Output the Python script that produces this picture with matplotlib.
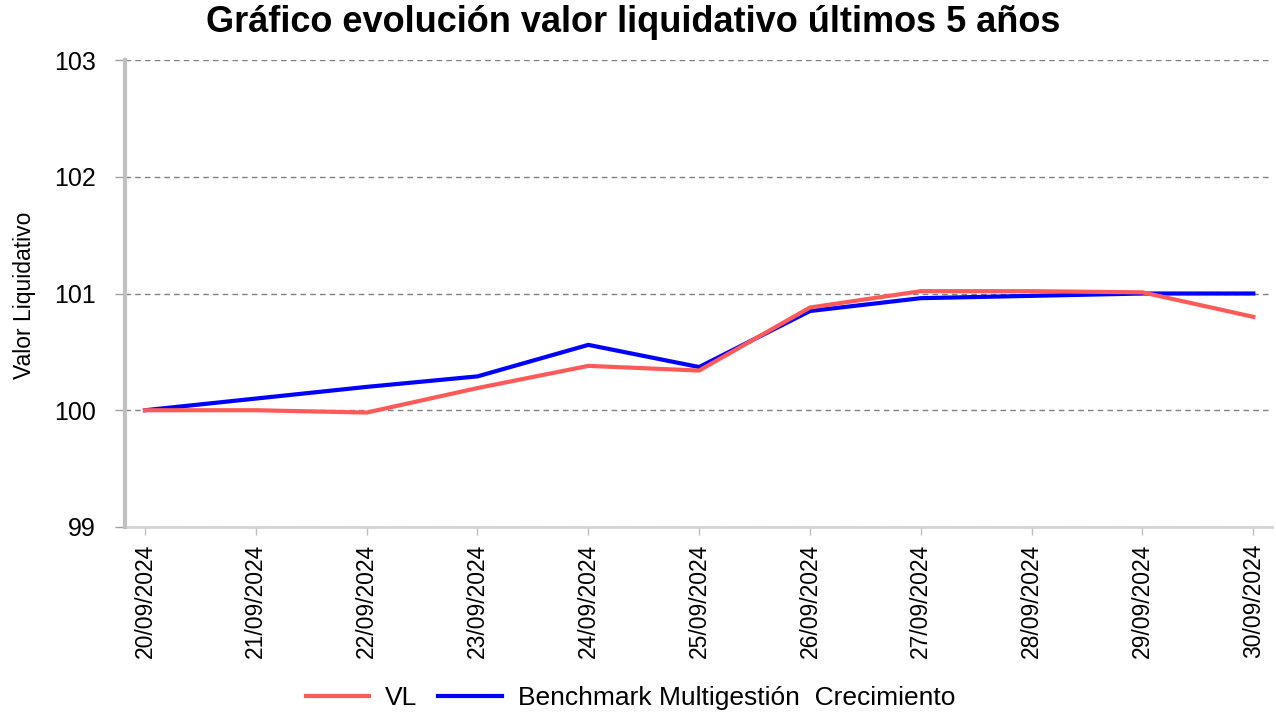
import matplotlib
matplotlib.use("Agg")
import matplotlib.pyplot as plt

plt.rcParams["font.family"] = ["Liberation Sans", "DejaVu Sans"]

# ---- data ----
dates = ["20/09/2024", "21/09/2024", "22/09/2024", "23/09/2024", "24/09/2024",
         "25/09/2024", "26/09/2024", "27/09/2024", "28/09/2024", "29/09/2024",
         "30/09/2024"]
vl = [100.0, 100.0, 99.98, 100.19, 100.38, 100.34, 100.88, 101.02, 101.02, 101.01, 100.80]
bench = [100.0, 100.10, 100.20, 100.29, 100.56, 100.37, 100.85, 100.96, 100.98, 101.0, 101.0]
yticks = [99, 100, 101, 102, 103]

# ---- plot ----
fig = plt.figure(figsize=(12.76, 7.15), dpi=100)
ax = fig.add_axes([0.098, 0.263, 0.899, 0.653])

x = list(range(len(dates)))
ax.plot(x, bench, color="#0000ff", linewidth=3, label="Benchmark Multigestión  Crecimiento", zorder=3)
ax.plot(x, vl, color="#ff5a5a", linewidth=3, label="VL", zorder=4)

ax.set_xlim(-0.18, len(dates) - 1 + 0.17)
ax.set_ylim(99, 103)
ax.set_yticks(yticks)
ax.set_yticklabels([str(v) for v in yticks])
ax.set_xticks(x)
ax.set_xticklabels(dates, rotation=90)

ax.grid(True, axis="y", color="#808080", linestyle=(0, (4, 3)), linewidth=1, zorder=2.5)
for side in ["top", "right"]:
    ax.spines[side].set_visible(False)
ax.spines["left"].set_color("#c0c0c0")
ax.spines["left"].set_linewidth(3)
ax.spines["bottom"].set_color("#d4d4d4")
ax.spines["bottom"].set_linewidth(2)
ax.spines["bottom"].set_zorder(2)
ax.tick_params(axis="y", length=7, width=1, color="#a0a0a0", labelsize=18, pad=14)
ax.tick_params(axis="x", length=6, width=1, color="#c0c0c0", labelsize=16.5, pad=6)

ax.set_ylabel("Valor Liquidativo", fontsize=16.5)
ax.yaxis.set_label_coords(-0.078, 0.497)
fig.text(0.496, 0.969, "Gráfico evolución valor liquidativo últimos 5 años",
         fontsize=26, fontweight="bold", ha="center", va="center")

handles, labels = ax.get_legend_handles_labels()
fig.legend(handles[::-1], labels[::-1], loc="center", bbox_to_anchor=(0.494, 0.024),
           ncol=2, frameon=False, fontsize=19, handlelength=2.4,
           columnspacing=0.8, handletextpad=0.6)

fig.savefig("out.png", dpi=100)
